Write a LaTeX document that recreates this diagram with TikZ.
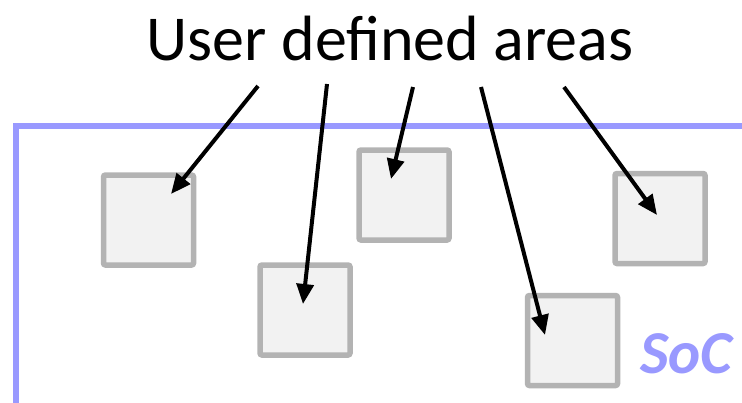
\documentclass[tikz,border=0pt]{standalone}
\usepackage{fontspec}
\setmainfont{Carlito}
\usepackage{tikz}
\usetikzlibrary{positioning,arrows.meta}
\definecolor{socblue}{RGB}{153,153,255}
\definecolor{areagray}{RGB}{179,179,179}
\definecolor{areafill}{RGB}{242,242,242}
\tikzset{
  area/.style={draw=areagray,fill=areafill,line width=5.5pt,rounded corners=2pt,
    minimum size=90pt,inner sep=0pt},
  pointer/.style={line width=4pt,-{Triangle[length=20pt,width=17pt]}},
}

\begin{document}
\begin{tikzpicture}[x=1pt,y=-1pt]
  \clip (0,0) rectangle (742,402);
  % the chip outline
  \draw[socblue,line width=5.5pt] (16,126) rectangle (770,405.5);
  \node[socblue,anchor=base east,font=\fontsize{61}{72}\selectfont\bfseries\itshape] (soc) at (736,373) {SoC};
  % title
  \node[anchor=base,font=\fontsize{64}{76}\selectfont,inner sep=0pt] (title) at (390,60) {User defined areas};
  % the areas
  \node[area] (area1) at (148.5,220) {};
  \node[area] (area2) at (305,310) {};
  \node[area] (area3) at (404,195) {};
  \node[area] (area4) at (660,218.5) {};
  \node[area] (area5) at (572.5,340.5) {};
  % arrow ends
  \coordinate (from1) at (258,86);
  \coordinate (from2) at (327,84);
  \coordinate (from3) at (413,87);
  \coordinate (from4) at (481,87);
  \coordinate (from5) at (564,87);
  \coordinate (to1) at (171,194);
  \coordinate (to2) at (303,304);
  \coordinate (to3) at (391,179);
  \coordinate (to4) at (545,335);
  \coordinate (to5) at (657,215);
  \foreach \i in {1,...,5}
    \draw[pointer] (from\i) -- (to\i);
\end{tikzpicture}
\end{document}
